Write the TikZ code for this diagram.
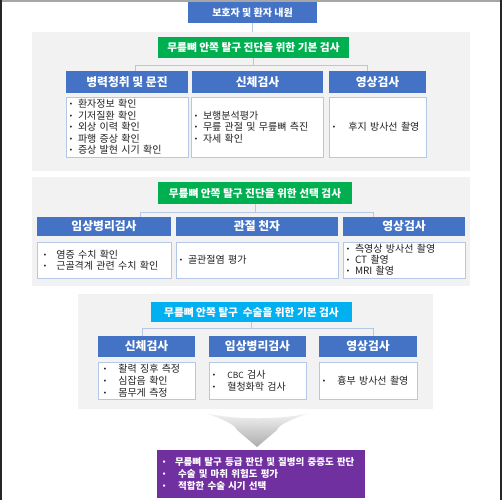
\documentclass[tikz,border=0pt]{standalone}
\usepackage{fontspec}
\setmainfont{Noto Sans CJK KR}
\newfontfamily\dejavu{DejaVu Sans}
\definecolor{hblue}{HTML}{4472C4}
\definecolor{hgreen}{HTML}{00B050}
\definecolor{hcyan}{HTML}{00B0F0}
\definecolor{panelbg}{HTML}{F2F2F2}
\definecolor{lineblue}{HTML}{B4C7E7}
\definecolor{hpurple}{HTML}{7030A0}
\definecolor{bodytext}{HTML}{222222}
\newcommand\bl[1][9pt]{\makebox[#1][l]{\raisebox{0.8pt}{\dejavu\fontsize{6.5}{6}\selectfont •}}}
\tikzset{
  box/.style={anchor=north west, inner sep=0pt, outer sep=0pt},
  hdr/.style={box, fill=hblue, text=white, font=\bfseries\fontsize{11.8}{13}\selectfont},
  topbox/.style={box, fill=hblue, text=white, font=\bfseries\fontsize{10}{11}\selectfont},
  ghdr/.style={box, fill=hgreen, text=white, font=\bfseries\fontsize{10.7}{12}\selectfont},
  chdr/.style={box, fill=hcyan, text=white, font=\bfseries\fontsize{10.7}{12}\selectfont},
  body/.style={box, fill=white, draw=lineblue, line width=0.8pt, inner xsep=3pt, align=left,
    text=bodytext, font=\fontsize{10}{11.5}\selectfont},
  panel/.style={fill=panelbg, draw=none},
  conn/.style={draw=lineblue, line width=0.9pt},
  purp/.style={box, fill=hpurple, text=white, inner xsep=3pt, align=left,
    font=\bfseries\fontsize{9.5}{12}\selectfont}
}
\begin{document}
\begin{tikzpicture}[x=1pt,y=-1pt]
\useasboundingbox (0,0) rectangle (502,500);
\fill[white] (0,0) rectangle (502,500);
% frame
\draw[line width=2pt, color=gray!70] (0,1) -- (502,1);
\draw[line width=2pt, color=black!85] (1,0) -- (1,500);
\draw[line width=2pt, color=black!85] (501,0) -- (501,500);

% panels
\fill[panel] (32,32) rectangle (470,171);
\fill[panel] (32,177) rectangle (470,286);
\fill[panel] (78,294) rectangle (433,409);

% top node
\node[topbox, minimum width=129pt, minimum height=21pt] (t0) at (188,2) {보호자 및 환자 내원};
\coordinate (p1top) at (253,32);
\draw[conn] (t0.south) -- (t0.south |- p1top);

% ---- section 1
\node[ghdr, minimum width=191pt, minimum height=21pt] (g1) at (158,37) {무릎뼈 안쪽 탈구 진단을 위한 기본 검사};
\node[hdr, minimum width=122pt, minimum height=22pt] (h11) at (66,71) {병력청취 및 문진};
\node[hdr, minimum width=131pt, minimum height=22pt] (h12) at (192,71) {신체검사};
\node[hdr, minimum width=97pt, minimum height=22pt] (h13) at (329,71) {영상검사};
\coordinate (b1l) at (135,65);
\coordinate (b1r) at (367,65);
\draw[conn] (g1.south) -- (g1.south |- b1l);
\draw[conn] (b1l |- h11.north) -- (b1l) -- (b1r) -- (b1r |- h13.north);
\node[body, text width=116pt, minimum height=60pt] (b11) at (66,97) {\bl 환자정보 확인\\ \bl 기저질환 확인\\ \bl 외상 이력 확인\\ \bl 파행 증상 확인\\ \bl 증상 발현 시기 확인};
\node[body, text width=126pt, minimum height=60pt] (b12) at (191,97) {\bl 보행분석평가\\ \bl 무릎 관절 및 무릎뼈 측진\\ \bl 자세 확인};
\node[body, text width=91pt, minimum height=60pt] (b13) at (329,97) {\bl[13pt] 후지 방사선 촬영};

% ---- section 2
\node[ghdr, minimum width=194pt, minimum height=22pt] (g2) at (158,182) {무릎뼈 안쪽 탈구 진단을 위한 선택 검사};
\node[hdr, minimum width=134pt, minimum height=19pt] (h21) at (37,217) {임상병리검사};
\node[hdr, minimum width=162pt, minimum height=19pt] (h22) at (176,217) {관절 천자};
\node[hdr, minimum width=122pt, minimum height=19pt] (h23) at (343,217) {영상검사};
\coordinate (b2l) at (140,212);
\coordinate (b2r) at (373,212);
\draw[conn] (g2.south) -- (g2.south |- b2l);
\draw[conn] (b2l |- h21.north) -- (b2l) -- (b2r) -- (b2r |- h23.north);
\node[body, text width=128pt, minimum height=36pt, inner xsep=3pt] (b21) at (37,242) {\hspace{3pt}\bl[10pt] 염증 수치 확인\\ \hspace{3pt}\bl[10pt] 근골격계 관련 수치 확인};
\node[body, text width=156pt, minimum height=36pt] (b22) at (176,242) {\bl 골관절염 평가};
\node[body, text width=116pt, minimum height=36pt, font=\fontsize{10}{11}\selectfont] (b23) at (343,242) {\bl 측영상 방사선 촬영\\ \bl CT 촬영\\ \bl MRI 촬영};

% ---- section 3
\node[chdr, minimum width=201pt, minimum height=20pt] (g3) at (151,302) {무릎뼈 안쪽 탈구 \ 수술을 위한 기본 검사};
\node[hdr, minimum width=97pt, minimum height=21pt] (h31) at (98,336) {신체검사};
\node[hdr, minimum width=97pt, minimum height=21pt] (h32) at (209,336) {임상병리검사};
\node[hdr, minimum width=98pt, minimum height=21pt] (h33) at (319,336) {영상검사};
\coordinate (b3l) at (142,328);
\coordinate (b3r) at (373,328);
\draw[conn] (g3.south) -- (g3.south |- b3l);
\draw[conn] (b3l |- h31.north) -- (b3l) -- (b3r) -- (b3r |- h33.north);
\node[body, text width=91pt, minimum height=37pt, font=\fontsize{10}{12}\selectfont] (b31) at (98,362) {\hspace{2pt}\bl[12pt] 활력 징후 측정\\ \hspace{2pt}\bl[12pt] 심잡음 확인\\ \hspace{2pt}\bl[12pt] 몸무게 측정};
\node[body, text width=91pt, minimum height=37pt, font=\fontsize{10}{12}\selectfont] (b32) at (209,362) {\bl[12pt] {\fontsize{8.5}{12}\selectfont CBC} 검사\\ \bl[12pt] 혈청화학 검사};
\node[body, text width=92pt, minimum height=37pt] (b33) at (319,362) {\bl[12pt] 흉부 방사선 촬영};

% ---- arrow
\shade[top color=gray!10, bottom color=gray!65]
  (206,413) .. controls (232,420) and (283,420) .. (309,413)
  .. controls (293,419) and (279,424) .. (277,430)
  -- (257,447) -- (237,430)
  .. controls (235,424) and (221,419) .. (206,413) -- cycle;

% ---- purple result
\node[purp, text width=202pt, minimum height=48pt] (pr) at (157,450) {\hspace{2pt}\bl[13pt]\mbox{무릎뼈 탈구 등급 판단 및 질병의 중증도 판단}\\ \hspace{2pt}\bl[13pt] 수술 및 마취 위험도 평가\\ \hspace{2pt}\bl[13pt] 적합한 수술 시기 선택};
\end{tikzpicture}
\end{document}
